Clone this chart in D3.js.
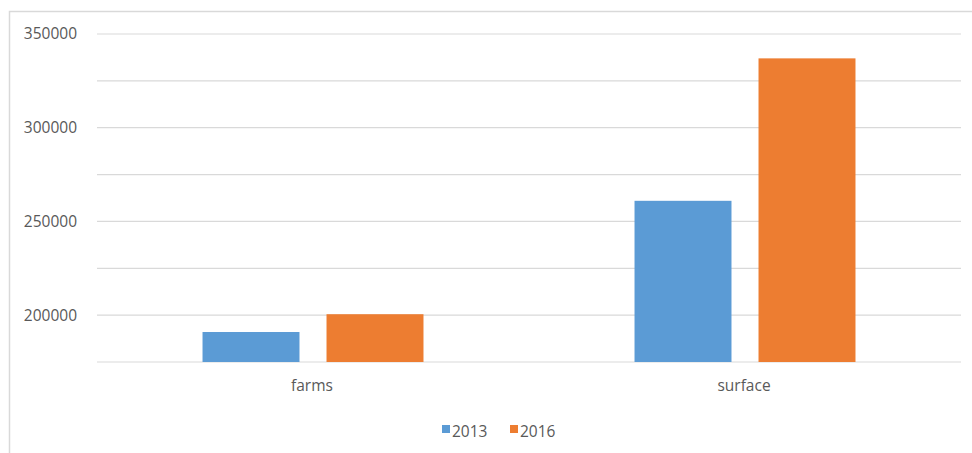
<!DOCTYPE html>
<html>
<head>
<meta charset="utf-8">
<script src="https://cdn.jsdelivr.net/npm/d3@7"></script>
<style>
  html, body { margin: 0; padding: 0; background: #fff; }
  svg { display: block; }
  text { font-family: "Open Sans", "Liberation Sans", sans-serif; fill: #595959; }
</style>
</head>
<body>
<svg id="chart" width="972" height="453"></svg>
<script>
// Categories and series
const categories = ["farms", "surface"];
const seriesNames = ["2013", "2016"];
const values2013 = [191000, 261000];
const values2016 = [200500, 337000];
const yTickLabels = [200000, 250000, 300000, 350000];
const gridValues = [175000, 200000, 225000, 250000, 275000, 300000, 325000, 350000];
const colors = ["#5b9bd5", "#ed7d31"];

const svg = d3.select("#chart");
const W = 972, H = 453;

// Chart area outline (top and left edges visible)
svg.append("rect")
  .attr("x", 9.5).attr("y", 11.5)
  .attr("width", W + 10).attr("height", H + 10)
  .attr("fill", "#fff")
  .attr("stroke", "#d9d9d9").attr("stroke-width", 1.5);

const plot = { left: 97, right: 961, top: 34, bottom: 362 };

const y = d3.scaleLinear()
  .domain([175000, 350000])
  .range([plot.bottom, plot.top]);

const x0 = d3.scaleBand()
  .domain(categories)
  .range([plot.left, plot.right])
  .padding(0);

const x1 = d3.scaleBand()
  .domain(seriesNames)
  .range([0, x0.bandwidth()])
  .paddingInner(0.218)
  .paddingOuter(0.851);

// Gridlines
svg.append("g")
  .selectAll("line")
  .data(gridValues)
  .join("line")
  .attr("x1", plot.left).attr("x2", plot.right)
  .attr("y1", d => y(d)).attr("y2", d => y(d))
  .attr("stroke", "#d9d9d9").attr("stroke-width", 1.2);

// Y axis labels
const yAxis = d3.axisLeft(y)
  .tickValues(yTickLabels)
  .tickSize(0)
  .tickPadding(0)
  .tickFormat(d3.format("d"));
const yg = svg.append("g")
  .attr("transform", `translate(${plot.left - 20},0)`)
  .call(yAxis);
yg.select(".domain").remove();
yg.selectAll("text")
  .attr("font-size", 15.5)
  .attr("font-family", "'Open Sans', sans-serif")
  .attr("fill", "#595959");

// Bars
const rows = categories.map((c, i) => ({
  category: c,
  items: [
    { series: seriesNames[0], value: values2013[i] },
    { series: seriesNames[1], value: values2016[i] }
  ]
}));

svg.append("g")
  .selectAll("g")
  .data(rows)
  .join("g")
  .attr("transform", d => `translate(${x0(d.category)},0)`)
  .selectAll("rect")
  .data(d => d.items)
  .join("rect")
  .attr("x", d => x1(d.series))
  .attr("width", x1.bandwidth())
  .attr("y", d => y(d.value))
  .attr("height", d => y(175000) - y(d.value))
  .attr("fill", (d, i) => colors[i]);

// Category axis labels
const xAxis = d3.axisBottom(x0).tickSize(0).tickPadding(0);
const xg = svg.append("g")
  .attr("transform", `translate(-1,${plot.bottom + 18})`)
  .call(xAxis);
xg.select(".domain").remove();
xg.selectAll("text")
  .attr("font-size", 15.5)
  .attr("font-family", "'Open Sans', sans-serif")
  .attr("fill", "#595959");

// Legend
const legend = svg.append("g").attr("transform", "translate(442,432)");
const legendX = [0, 68];
seriesNames.forEach((s, i) => {
  const g = legend.append("g").attr("transform", `translate(${legendX[i]},0)`);
  g.append("rect")
    .attr("x", 0).attr("y", -7)
    .attr("width", 8).attr("height", 8)
    .attr("fill", colors[i]);
  g.append("text")
    .attr("x", 10).attr("y", 0)
    .attr("dy", "0.35em")
    .attr("font-size", 15.5)
    .text(s);
});
</script>
</body>
</html>
